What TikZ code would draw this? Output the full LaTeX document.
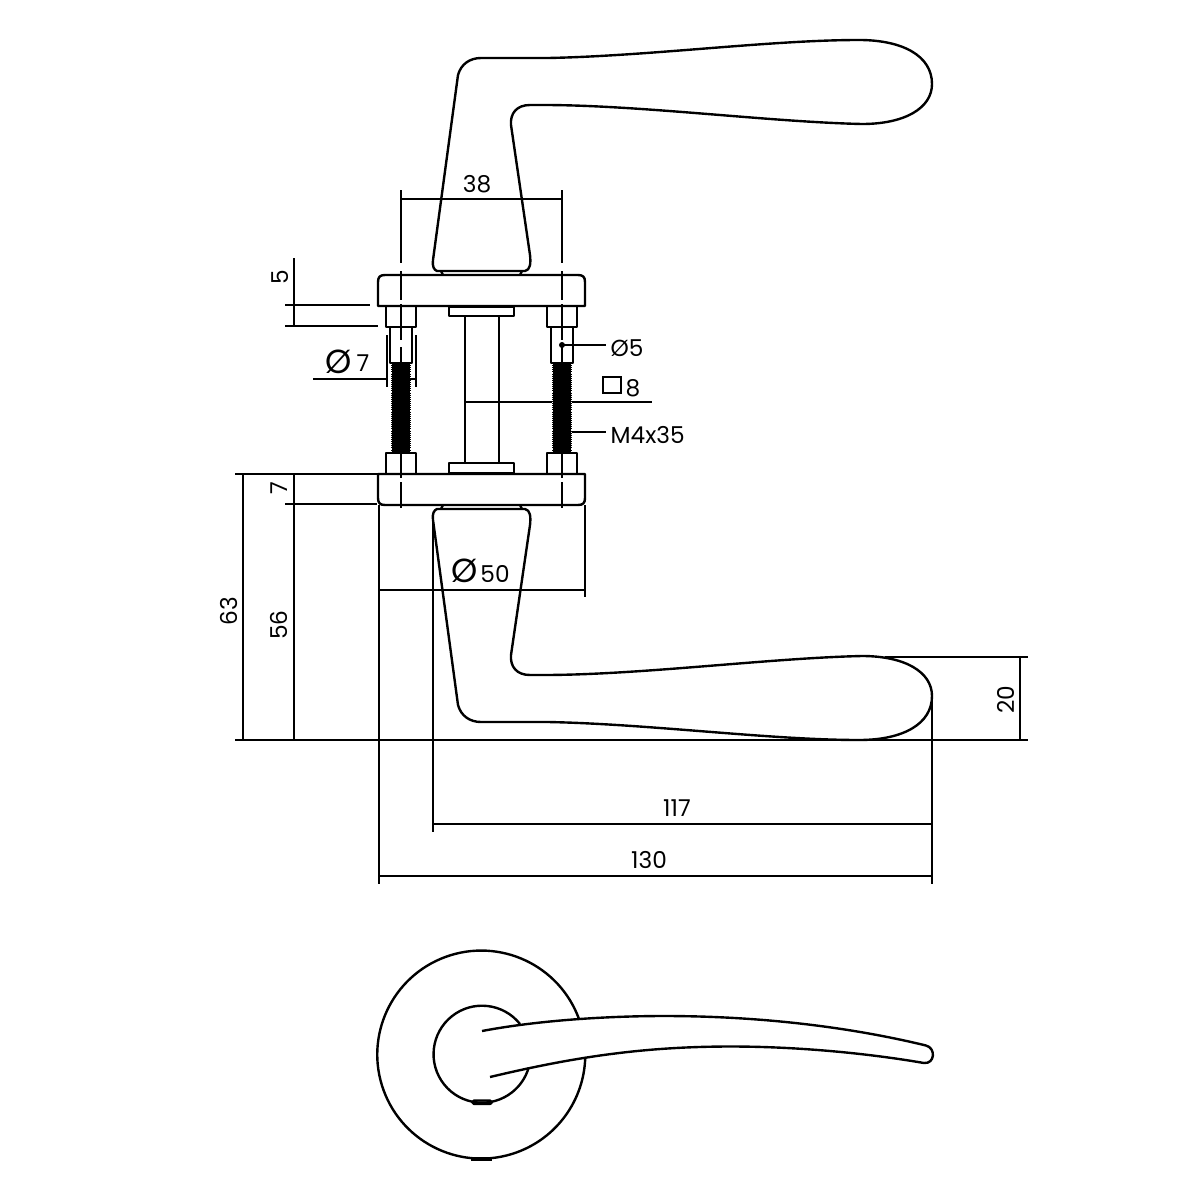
\documentclass[tikz,border=0pt]{standalone}
\usepackage{fontspec}
\setmainfont{Poppins}
\newcommand{\handleoutline}{(437,271) .. controls (434,270) and (432,266) .. (433,260) -- (458,75)
    .. controls (461,64) and (470,58) .. (481,58) -- (548,58)
    .. controls (650,56) and (770,40) .. (859,40)
    .. controls (903,40) and (932,56) .. (932,84)
    .. controls (932,108) and (905,124) .. (862,124)
    .. controls (770,122) and (640,105) .. (543,105) -- (530,105)
    .. controls (517,105) and (510,113) .. (511,125) -- (530,255)
    .. controls (531,264) and (530,270) .. (525,271) -- cycle}
\begin{document}
\begin{tikzpicture}[x=0.01cm,y=-0.01cm]
    \tikzset{
        part line/.style={draw=black,line width=0.68pt,line join=round},
        dim line/.style={draw=black,line width=0.36pt},
        dim label/.style={inner sep=0,font=\fontsize{6.6}{8}\selectfont},
        dia label/.style={inner sep=0,font=\fontsize{9.5}{10}\selectfont}
    }
    \useasboundingbox (0,0) rectangle (1200,1200);

    % handles
    \draw[part line] \handleoutline;
    \draw[part line] (441,271) -- (443,275) (522,271) -- (520,275);
    \begin{scope}[shift={(0,780)},yscale=-1]
        \draw[part line] \handleoutline;
        \draw[part line] (441,271) -- (443,275) (522,271) -- (520,275);
    \end{scope}

    % rosettes
    \draw[part line] (378,306) -- (378,282) .. controls (378,277) and (380,275) .. (385,275) -- (578,275)
        .. controls (583,275) and (585,277) .. (585,282) -- (585,306) -- cycle;
    \draw[part line] (378,474) -- (378,498) .. controls (378,503) and (380,505) .. (385,505) -- (578,505)
        .. controls (583,505) and (585,503) .. (585,498) -- (585,474) -- cycle;

    % spindle
    \draw[part line,line width=0.9pt] (449,306.5) -- (514,306.5);
    \draw[part line] (449,307) rectangle (514,316);
    \draw[part line,line width=0.9pt] (449,473.5) -- (514,473.5);
    \draw[part line] (449,463) rectangle (514,473);
    \draw[part line] (465,316) -- (465,463) (499,316) -- (499,463);

    % screws
    \foreach \sx in {401,562} {
        \draw[part line] ({\sx-15},306) -- ({\sx-15},327) -- ({\sx+15},327) -- ({\sx+15},306);
        \draw[part line] ({\sx-11},327) -- ({\sx-11},363) -- ({\sx+11},363) -- ({\sx+11},327);
        \fill[black] ({\sx-9},363) rectangle ({\sx+9},452);
        \draw[black,line width=0.3pt,dash pattern=on 0.3pt off 0.3pt] ({\sx-9.5},363) -- ({\sx-9.5},452) ({\sx+9.5},363) -- ({\sx+9.5},452);
        \draw[part line] ({\sx-15},474) -- ({\sx-15},453) -- ({\sx+15},453) -- ({\sx+15},474);
        \draw[dim line] (\sx,190) -- (\sx,263) (\sx,271) -- (\sx,300) (\sx,304) -- (\sx,340)
            (\sx,347) -- (\sx,363) (\sx,453) -- (\sx,478) (\sx,482) -- (\sx,508);
    }

    % dimensions
    \draw[dim line] (401,199) -- (562,199);
    \node[dim label] (width38) at (477,184) {38};

    \draw[dim line] (294,258) -- (294,326) (285,305) -- (370,305) (285,326) -- (378,326);
    \node[dim label,rotate=90] (height5) at (280,277) {5};

    \draw[dim line] (313,379) -- (388,379) (410,379) -- (416,379) (387,335) -- (387,387) (416,335) -- (416,387);
    \node[dia label] (dia7sign) at (339,362) {Ø};
    \node[dim label] (dia7) at (363,363) {7};

    \fill[black] (562,345) circle (3);
    \draw[dim line] (562,345) -- (606,345);
    \node[dim label] (dia5) at (627,348) {Ø5};

    \draw[dim line] (603,377) rectangle (621,393);
    \node[dim label] (square8) at (633,388) {8};
    \draw[dim line] (465,402) -- (552,402) (572,402) -- (652,402);

    \draw[dim line] (572,432) -- (606,432);
    \node[dim label,anchor=west] (thread) at (610,435) {M4x35};

    \draw[dim line] (235,474) -- (378,474) (285,504) -- (377,504) (235,740) -- (1028,740);
    \draw[dim line] (243,474) -- (243,740) (294,474) -- (294,740);
    \node[dim label,rotate=90] (height7) at (279,488) {7};
    \node[dim label,rotate=90] (height56) at (279,625) {56};
    \node[dim label,rotate=90] (height63) at (229,611) {63};

    \draw[dim line] (379,505) -- (379,884) (585,505) -- (585,597) (379,590) -- (585,590);
    \node[dia label] (dia50sign) at (465,571) {Ø};
    \node[dim label] (dia50) at (495,574) {50};

    \draw[dim line] (885,657) -- (1028,657) (1020,657) -- (1020,740);
    \node[dim label,rotate=90] (height20) at (1006,700) {20};

    \draw[dim line] (433,520) -- (433,832) (932,700) -- (932,884);
    \draw[dim line] (433,824) -- (932,824) (379,876) -- (932,876);
    \node[dim label] (length117) at (677,808) {117};
    \node[dim label] (length130) at (649,860) {130};

    % front view
    \draw[part line] (579,1019) arc[start angle=-20,end angle=-358.3,radius=104];
    \draw[part line] (520,1024) arc[start angle=-38.5,end angle=-344.2,radius=48.5];
    \draw[part line] (482,1031) .. controls (540,1020) and (610,1016) .. (664,1016)
        .. controls (760,1016) and (850,1027) .. (926,1045.5)
        .. controls (936,1048) and (935,1064) .. (924,1063)
        .. controls (860,1052) and (790,1046.5) .. (731,1046.5)
        .. controls (640,1046.5) and (570,1058) .. (490,1077);
    \draw[part line,line width=0.6pt,rounded corners=0.5pt] (472,1100.5) rectangle (492,1104);
    \draw[part line,line width=1pt] (471,1159) -- (492,1159);
\end{tikzpicture}
\end{document}
